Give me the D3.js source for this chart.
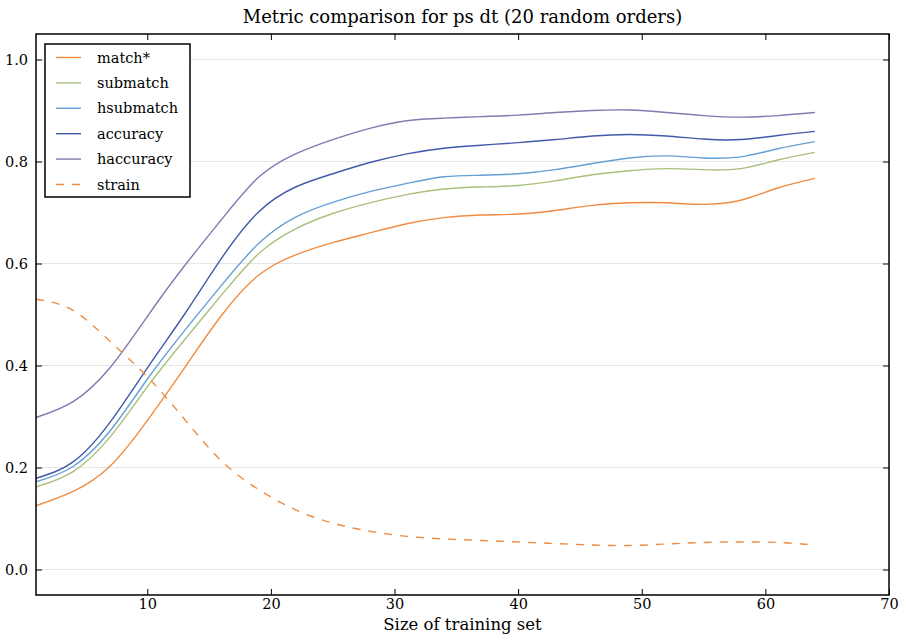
<!DOCTYPE html>
<html>
<head>
<meta charset="utf-8">
<script src="https://cdn.jsdelivr.net/npm/d3@7"></script>
<style>
  body { margin: 0; background: #fff; }
</style>
</head>
<body>
<script>

  // training set sizes the curves are sampled at
  var sizes = [1, 4, 7, 10, 13, 16, 19, 22, 25, 28, 31, 34, 37, 40, 43, 46, 49, 52, 55, 58, 61, 64];

  var matchVals = [0.125, 0.153, 0.203, 0.292, 0.395, 0.498, 0.577, 0.617, 0.641, 0.660, 0.678,
                   0.690, 0.695, 0.697, 0.704, 0.714, 0.719, 0.719, 0.716, 0.724, 0.748, 0.767];
  var submatchVals = [0.162, 0.192, 0.260, 0.358, 0.450, 0.538, 0.619, 0.668, 0.698, 0.719, 0.735,
                      0.746, 0.750, 0.753, 0.762, 0.774, 0.782, 0.786, 0.784, 0.786, 0.803, 0.818];
  var hsubmatchVals = [0.172, 0.202, 0.272, 0.373, 0.468, 0.557, 0.639, 0.691, 0.720, 0.741, 0.757,
                       0.770, 0.773, 0.776, 0.784, 0.796, 0.807, 0.811, 0.807, 0.809, 0.825, 0.839];
  var accuracyVals = [0.179, 0.211, 0.289, 0.395, 0.500, 0.610, 0.701, 0.750, 0.776, 0.798, 0.815,
                      0.826, 0.832, 0.837, 0.843, 0.850, 0.853, 0.850, 0.844, 0.843, 0.851, 0.859];
  var haccuracyVals = [0.298, 0.329, 0.396, 0.496, 0.595, 0.686, 0.769, 0.815, 0.843, 0.865, 0.880,
                       0.885, 0.888, 0.891, 0.896, 0.900, 0.901, 0.896, 0.890, 0.887, 0.890, 0.896];
  var strainVals = [0.530, 0.508, 0.447, 0.378, 0.295, 0.213, 0.157, 0.117, 0.091, 0.075, 0.065,
                    0.060, 0.057, 0.054, 0.051, 0.048, 0.047, 0.050, 0.053, 0.054, 0.053, 0.048];

  var seriesNames = ["match*", "submatch", "hsubmatch", "accuracy", "haccuracy", "strain"];
  var seriesVals = [matchVals, submatchVals, hsubmatchVals, accuracyVals, haccuracyVals, strainVals];
  var colors = ["#f08c42", "#a8c07c", "#649fd4", "#4259aa", "#8677b0", "#f08c42"];
  var dashes = [null, null, null, null, null, "8,8"];

  var xTicks = [10, 20, 30, 40, 50, 60, 70];
  var yTicks = [0.0, 0.2, 0.4, 0.6, 0.8, 1.0];

  var fontStack = "'DejaVu Serif', serif";

  var width = 906, height = 644;
  var margin = { top: 34, right: 17, bottom: 49, left: 36 };

  var svg = d3.select("body").append("svg")
      .attr("width", width)
      .attr("height", height)
      .style("font-family", fontStack);

  var x = d3.scaleLinear().domain([1, 70]).range([margin.left, width - margin.right]);
  var y = d3.scaleLinear().domain([-0.05, 1.05]).range([height - margin.bottom, margin.top]);

  // horizontal grid
  svg.append("g").selectAll("line")
    .data(yTicks)
    .enter().append("line")
      .attr("x1", x.range()[0]).attr("x2", x.range()[1])
      .attr("y1", function(d) { return y(d); })
      .attr("y2", function(d) { return y(d); })
      .attr("stroke", "#e6e6e6")
      .attr("stroke-width", 1);

  // axes with inward ticks on all four sides
  var tickLen = 6;
  var axisB = svg.append("g")
      .attr("transform", "translate(0," + y.range()[0] + ")")
      .call(d3.axisBottom(x).tickValues(xTicks).tickFormat(d3.format("d")).tickSizeInner(-tickLen).tickSizeOuter(0).tickPadding(4));
  var axisT = svg.append("g")
      .attr("transform", "translate(0," + y.range()[1] + ")")
      .call(d3.axisTop(x).tickValues(xTicks).tickFormat("").tickSizeInner(-tickLen).tickSizeOuter(0));
  var axisL = svg.append("g")
      .attr("transform", "translate(" + x.range()[0] + ",0)")
      .call(d3.axisLeft(y).tickValues(yTicks).tickFormat(d3.format(".1f")).tickSizeInner(-tickLen).tickSizeOuter(0).tickPadding(8));
  var axisR = svg.append("g")
      .attr("transform", "translate(" + x.range()[1] + ",0)")
      .call(d3.axisRight(y).tickValues(yTicks).tickFormat("").tickSizeInner(-tickLen).tickSizeOuter(0));

  [axisB, axisT, axisL, axisR].forEach(function(g) {
    g.attr("font-family", null).attr("font-size", null);
    g.select(".domain").remove();
    g.selectAll(".tick line").attr("stroke", "#000").attr("stroke-width", 1);
    g.selectAll(".tick text")
      .attr("fill", "#000")
      .style("font-family", fontStack)
      .style("font-size", "14.5px");
  });

  // series lines
  var line = d3.line()
      .x(function(d) { return x(d[0]); })
      .y(function(d) { return y(d[1]); })
      .curve(d3.curveNatural);

  seriesNames.forEach(function(name, i) {
    var pts = sizes.map(function(s, j) { return [s, seriesVals[i][j]]; });
    svg.append("path")
      .datum(pts)
      .attr("d", line)
      .attr("fill", "none")
      .attr("stroke", colors[i])
      .attr("stroke-width", 1.4)
      .attr("stroke-dasharray", dashes[i]);
  });

  // frame
  svg.append("rect")
    .attr("x", x.range()[0]).attr("y", y.range()[1])
    .attr("width", x.range()[1] - x.range()[0])
    .attr("height", y.range()[0] - y.range()[1])
    .attr("fill", "none")
    .attr("stroke", "#000")
    .attr("stroke-width", 1.5);

  // legend
  var legend = svg.append("g").attr("transform", "translate(45,44)");
  legend.append("rect")
    .attr("width", 145).attr("height", 153)
    .attr("fill", "#fff")
    .attr("stroke", "#000")
    .attr("stroke-width", 1.5);
  seriesNames.forEach(function(name, i) {
    var ly = 13.5 + i * 25.4;
    legend.append("line")
      .attr("x1", 11).attr("x2", 36)
      .attr("y1", ly).attr("y2", ly)
      .attr("stroke", colors[i])
      .attr("stroke-width", 1.4)
      .attr("stroke-dasharray", dashes[i]);
    legend.append("text")
      .attr("x", 52).attr("y", ly + 5)
      .style("font-family", fontStack)
      .style("font-size", "14.5px")
      .text(name);
  });

  // title and axis label
  svg.append("text")
    .attr("x", (x.range()[0] + x.range()[1]) / 2)
    .attr("y", 23)
    .attr("text-anchor", "middle")
    .style("font-family", fontStack)
    .style("font-size", "18px")
    .text("Metric comparison for ps dt (20 random orders)");

  svg.append("text")
    .attr("x", (x.range()[0] + x.range()[1]) / 2)
    .attr("y", 630)
    .attr("text-anchor", "middle")
    .style("font-family", fontStack)
    .style("font-size", "16.5px")
    .text("Size of training set");

</script>
</body>
</html>
